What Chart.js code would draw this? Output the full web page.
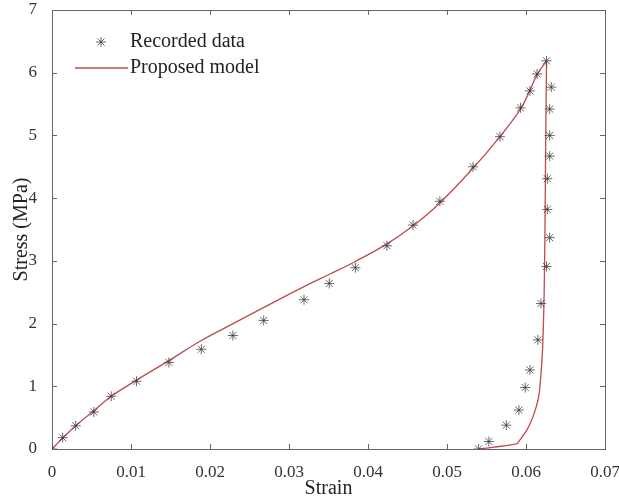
<!DOCTYPE html>
<html>
<head>
<meta charset="utf-8">
<script src="https://cdn.jsdelivr.net/npm/chart.js@4"></script>
<style>
  html, body { margin: 0; padding: 0; background: #fff; }
  #grafico { display: block; }
</style>
</head>
<body>
<canvas id="grafico" width="619" height="504"></canvas>
<script>
// dados
const strainRec = [0, 0.00135, 0.003, 0.0053, 0.0075, 0.0107, 0.0148, 0.0189, 0.0229, 0.0268, 0.0319, 0.0351, 0.0384, 0.0424, 0.0457, 0.0491, 0.0533, 0.0567, 0.0593, 0.0605, 0.0614, 0.0626,
                   0.0632, 0.0630, 0.0630, 0.0630, 0.0627, 0.0627, 0.0630, 0.0626, 0.0619, 0.0615, 0.0605, 0.0599, 0.0591, 0.0575, 0.0553, 0.0540];
const stressRec = [0, 0.18, 0.37, 0.59, 0.84, 1.08, 1.38, 1.59, 1.81, 2.05, 2.38, 2.64, 2.89, 3.24, 3.57, 3.95, 4.50, 4.98, 5.44, 5.71, 5.98, 6.19,
                   5.77, 5.42, 5.00, 4.67, 4.31, 3.82, 3.37, 2.91, 2.32, 1.74, 1.26, 0.98, 0.62, 0.38, 0.12, 0.00];

// modelo: carregamento e descarregamento
const strainCarga = [0, 0.0014, 0.003, 0.0053, 0.0075, 0.0106, 0.0148, 0.0189, 0.0228, 0.027, 0.0319, 0.0352, 0.0384, 0.0424, 0.0457, 0.0489, 0.0531, 0.0565, 0.0593, 0.0605, 0.0614, 0.0626];
const stressCarga = [0, 0.18, 0.37, 0.61, 0.84, 1.09, 1.41, 1.73, 1.99, 2.27, 2.59, 2.79, 2.99, 3.27, 3.56, 3.90, 4.45, 4.95, 5.42, 5.72, 5.97, 6.19];
const strainDescarga = [0.0626, 0.0625, 0.0624, 0.0623, 0.0621, 0.0619, 0.0616, 0.0609, 0.0601, 0.0592, 0.0588, 0.0540];
const stressDescarga = [6.19, 5.00, 3.50, 2.50, 1.60, 1.20, 0.83, 0.52, 0.30, 0.14, 0.08, 0.00];

const xTicks = [0, 0.01, 0.02, 0.03, 0.04, 0.05, 0.06, 0.07];
const yTicks = [0, 1, 2, 3, 4, 5, 6, 7];
const legendas = ['Recorded data', 'Proposed model'];

const corModelo = '#bf4a50';
const corPontos = 'rgba(55, 55, 55, 0.75)';
const corEixo = '#666';
const fonte = '"Liberation Serif", "Times New Roman", serif';

Chart.defaults.font.family = fonte;
Chart.defaults.color = '#333';

// moldura e marcas de escala para dentro, nos quatro lados
const moldura = {
    id: 'moldura',
    beforeDatasetsDraw(chart) {
        const { ctx, chartArea: a, scales } = chart;
        ctx.save();
        ctx.strokeStyle = corEixo;
        ctx.lineWidth = 1;
        ctx.strokeRect(a.left + 0.5, a.top + 0.5, a.right - a.left, a.bottom - a.top);
        const t = 5;
        ctx.beginPath();
        xTicks.forEach(v => {
            const px = Math.round(scales.x.getPixelForValue(v)) + 0.5;
            ctx.moveTo(px, a.bottom); ctx.lineTo(px, a.bottom - t);
            ctx.moveTo(px, a.top); ctx.lineTo(px, a.top + t);
        });
        yTicks.forEach(v => {
            const py = Math.round(scales.y.getPixelForValue(v)) + 0.5;
            ctx.moveTo(a.left, py); ctx.lineTo(a.left + t, py);
            ctx.moveTo(a.right, py); ctx.lineTo(a.right - t, py);
        });
        ctx.stroke();
        ctx.restore();
    },
    afterDraw(chart) {
        const { ctx } = chart;
        ctx.save();
        ctx.font = '20px ' + fonte;
        ctx.fillStyle = '#222';
        ctx.textBaseline = 'middle';
        ctx.textAlign = 'left';
        ctx.strokeStyle = corPontos;
        Chart.helpers.drawPoint(ctx, { pointStyle: 'star', radius: 5, borderWidth: 1 }, 101, 42);
        ctx.fillText(legendas[0], 130, 42);
        ctx.strokeStyle = corModelo;
        ctx.lineWidth = 1.3;
        ctx.beginPath();
        ctx.moveTo(75, 68); ctx.lineTo(128, 68);
        ctx.stroke();
        ctx.fillText(legendas[1], 130, 68);
        ctx.restore();
    }
};

function criarGrafico() {
    const ctx = document.getElementById('grafico').getContext('2d');

    const estiloModelo = {
        showLine: true,
        borderColor: corModelo,
        borderWidth: 1.3,
        pointRadius: 0,
        order: 2
    };

    new Chart(ctx, {
        type: 'scatter',
        data: {
            datasets: [
                Object.assign({
                    label: legendas[1],
                    data: strainCarga.map((x, i) => ({ x: x, y: stressCarga[i] })),
                    tension: 0.4
                }, estiloModelo),
                Object.assign({
                    label: legendas[1],
                    data: strainDescarga.map((x, i) => ({ x: x, y: stressDescarga[i] })),
                    tension: 0.3
                }, estiloModelo),
                {
                    label: legendas[0],
                    data: strainRec.map((x, i) => ({ x: x, y: stressRec[i] })),
                    pointStyle: 'star',
                    pointRadius: 5,
                    borderColor: corPontos,
                    backgroundColor: corPontos,
                    borderWidth: 1,
                    order: 1
                }
            ]
        },
        options: {
            responsive: false,
            animation: false,
            layout: { padding: { top: 10, right: 14, bottom: 0, left: 0 } },
            plugins: { legend: { display: false }, tooltip: { enabled: false } },
            scales: {
                x: {
                    type: 'linear',
                    min: 0,
                    max: 0.07,
                    grid: { display: false },
                    border: { display: false },
                    afterBuildTicks: s => { s.ticks = xTicks.map(v => ({ value: v })); },
                    afterFit: s => { s.height = 55; s.paddingLeft = 0; s.paddingRight = 0; },
                    ticks: {
                        padding: 5,
                        maxRotation: 0,
                        autoSkip: false,
                        font: { size: 17 },
                        callback: v => (v === 0 ? '0' : v.toFixed(2))
                    },
                    title: {
                        display: true,
                        text: 'Strain',
                        color: '#222',
                        font: { size: 20 },
                        padding: { top: 0, bottom: 3 }
                    }
                },
                y: {
                    type: 'linear',
                    min: 0,
                    max: 7,
                    grid: { display: false },
                    border: { display: false },
                    afterBuildTicks: s => { s.ticks = yTicks.map(v => ({ value: v })); },
                    afterFit: s => { s.width = 52; s.paddingTop = 0; s.paddingBottom = 0; },
                    ticks: {
                        padding: 7,
                        autoSkip: false,
                        font: { size: 17 },
                        callback: v => String(v)
                    },
                    title: {
                        display: true,
                        text: 'Stress (MPa)',
                        color: '#222',
                        font: { size: 20 },
                        padding: { top: 10, bottom: 0 }
                    }
                }
            }
        },
        plugins: [moldura]
    });
}

window.onload = criarGrafico;
</script>
</body>
</html>
